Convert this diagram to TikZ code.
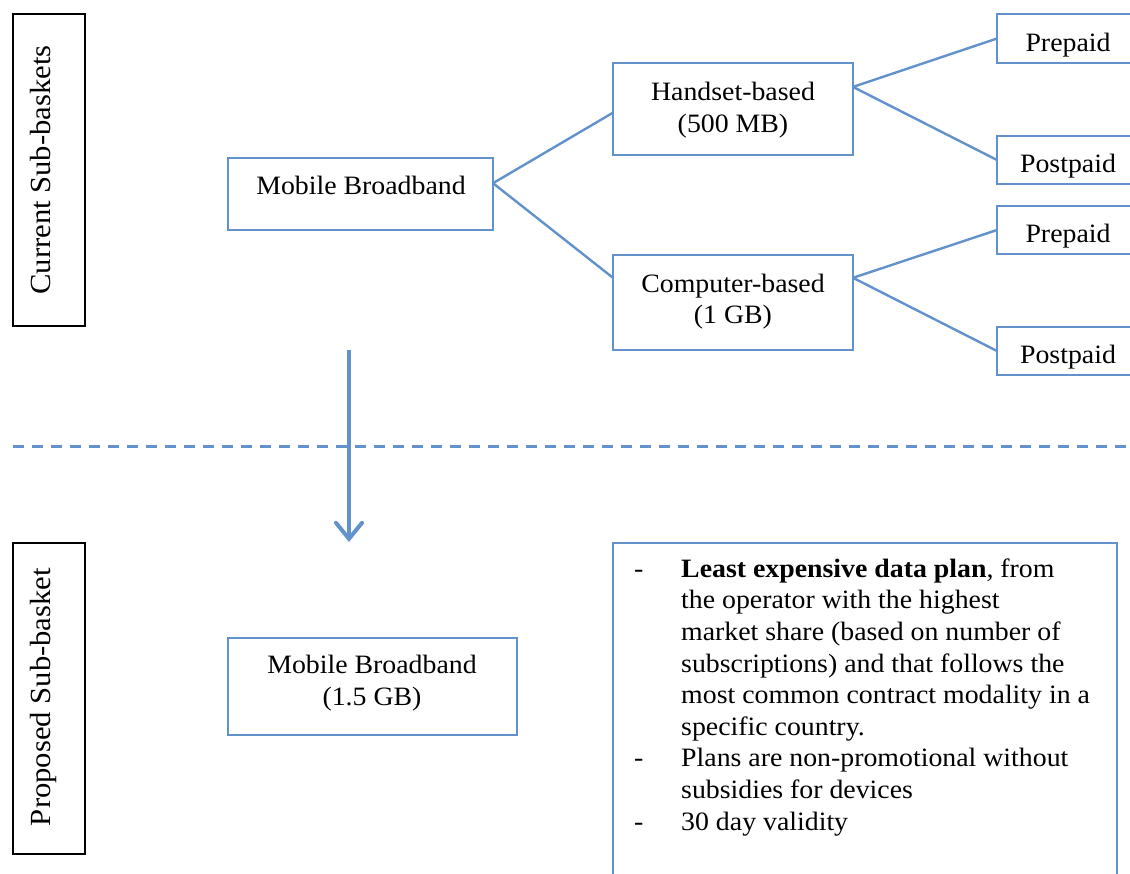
\documentclass[tikz,border=0pt]{standalone}
\usepackage{fontspec}
\setmainfont{Liberation Serif}[FakeStretch=1.05]
\usetikzlibrary{calc,arrows.meta}
\definecolor{bl}{RGB}{98,146,204}
\begin{document}
\begin{tikzpicture}[x=1pt,y=-1pt,
  box/.style={draw=bl,line width=1.8pt,inner sep=0pt,outer sep=0pt},
  lbox/.style={draw=black,line width=1.6pt,inner sep=0pt,outer sep=0pt},
  conn/.style={draw=bl,line width=2.4pt},
  txt/.style={font=\fontsize{26.5}{31.6}\selectfont,inner sep=0pt,anchor=base},
  ltxt/.style={font=\fontsize{29.2}{34}\selectfont,inner sep=0pt,anchor=base,rotate=90}]
\clip (0,0) rectangle (1130,873);
\fill[white] (0,0) rectangle (1130,873);
% left label boxes
\node[lbox,minimum width=72pt,minimum height=312pt] (cur) at (49,170) {};
\node[lbox,minimum width=72pt,minimum height=311pt] (prop) at (49,698.5) {};
\node[ltxt] (curt) at (50,170) {Current Sub-baskets};
\node[ltxt] (propt) at (50,697) {Proposed Sub-basket};
% tree boxes
\node[box,minimum width=265pt,minimum height=72pt] (mb) at (360.5,194) {};
\node[box,minimum width=240pt,minimum height=92pt] (hb) at (733,109) {};
\node[box,minimum width=240pt,minimum height=95pt] (cb) at (733,302.5) {};
\node[box,minimum width=143pt,minimum height=49pt] (pre1) at (1068.5,38.5) {};
\node[box,minimum width=143pt,minimum height=48pt] (post1) at (1068.5,160) {};
\node[box,minimum width=143pt,minimum height=48pt] (pre2) at (1068.5,230) {};
\node[box,minimum width=143pt,minimum height=48pt] (post2) at (1068.5,351) {};
% texts
\node[txt] (mbt) at (361,194) {Mobile Broadband};
\node[txt] (hbt1) at (733,100) {Handset-based};
\node[txt] (hbt2) at (733,132) {(500 MB)};
\node[txt] (cbt1) at (733,292) {Computer-based};
\node[txt] (cbt2) at (733,323) {(1 GB)};
\node[txt] (pre1t) at (1068,51) {Prepaid};
\node[txt] (post1t) at (1068,172) {Postpaid};
\node[txt] (pre2t) at (1068,242) {Prepaid};
\node[txt] (post2t) at (1068,363) {Postpaid};
% connectors
\draw[conn] ($(mb.north east)!0.35!(mb.south east)$) -- ($(hb.north west)!0.54!(hb.south west)$);
\draw[conn] ($(mb.north east)!0.35!(mb.south east)$) -- ($(cb.north west)!0.24!(cb.south west)$);
\draw[conn] ($(hb.north east)!0.26!(hb.south east)$) -- ($(pre1.north west)!0.5!(pre1.south west)$);
\draw[conn] ($(hb.north east)!0.26!(hb.south east)$) -- ($(post1.north west)!0.5!(post1.south west)$);
\draw[conn] ($(cb.north east)!0.24!(cb.south east)$) -- ($(pre2.north west)!0.5!(pre2.south west)$);
\draw[conn] ($(cb.north east)!0.24!(cb.south east)$) -- ($(post2.north west)!0.5!(post2.south west)$);
% separator and arrow
\coordinate (dl) at (13,446);
\coordinate (dr) at (1130,446);
\draw[bl,line width=3pt,dash pattern=on 11.3pt off 7.7pt] (dl) -- (dr);
\coordinate (as) at (349,350);
\coordinate (ae) at (349,542);
\draw[bl,line width=4pt,-{Straight Barb[length=16pt,width=26pt,line cap=round]}] (as) -- (ae);
% proposed
\node[box,minimum width=289pt,minimum height=97pt] (mb2) at (372.5,686.5) {};
\node[txt] (mb2t1) at (372,673) {Mobile Broadband};
\node[txt] (mb2t2) at (372,705) {(1.5 GB)};
\node[box,minimum width=504pt,minimum height=347pt] (tb) at (865,716.5) {};
\node[font=\fontsize{26.5}{31.6}\selectfont,inner sep=0pt,anchor=north west] (tbt) at (634,554.9) {%
\begin{tabular}{@{}p{47pt}@{}l@{}}
- & \textbf{Least expensive data plan}, from\\
  & the operator with the highest\\
  & market share (based on number of\\
  & subscriptions) and that follows the\\
  & most common contract modality in a\\
  & specific country.\\
- & Plans are non-promotional without\\
  & subsidies for devices\\
- & 30 day validity
\end{tabular}};
\end{tikzpicture}
\end{document}
